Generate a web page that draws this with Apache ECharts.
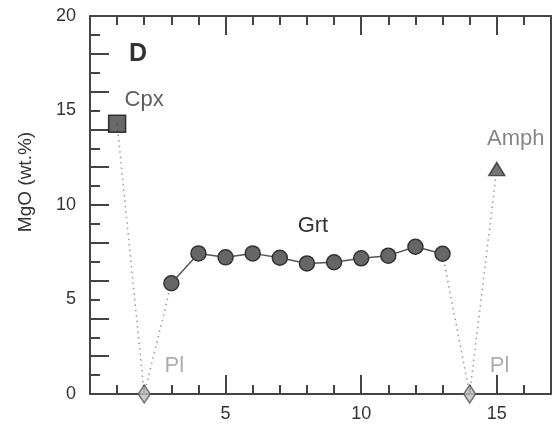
<!DOCTYPE html>
<html>
<head>
<meta charset="utf-8">
<script src="https://cdn.jsdelivr.net/npm/echarts@6/dist/echarts.min.js"></script>
<style>
  html, body { margin: 0; padding: 0; background: #fff; }
  #chart { width: 557px; height: 439px; }
</style>
</head>
<body>
<div id="chart"></div>
<script>
// Analysis positions along the traverse and MgO contents (wt.%)
const cpxX = [1];
const cpxY = [14.3];
const plX = [2, 14];
const plY = [0, 0];
const grtX = [3, 4, 5, 6, 7, 8, 9, 10, 11, 12, 13];
const grtY = [5.86, 7.44, 7.23, 7.44, 7.21, 6.91, 6.97, 7.18, 7.32, 7.79, 7.42];
const amphX = [15];
const amphY = [11.9];

const xTickLabels = [5, 10, 15];
const yTickLabels = [0, 5, 10, 15, 20];

const FONT = 'Liberation Sans, Arial, sans-serif';
const AXIS_COLOR = '#444';

const pts = (xs, ys) => xs.map((x, i) => [x, ys[i]]);

// Dotted tie lines: Cpx -> Pl -> first Grt, last Grt -> Pl -> Amph
const tieLeft = [[cpxX[0], cpxY[0]], [plX[0], plY[0]], [grtX[0], grtY[0]]];
const last = grtX.length - 1;
const tieRight = [[grtX[last], grtY[last]], [plX[1], plY[1]], [amphX[0], amphY[0]]];

function mkXAxis(position, interval, len, opts) {
  return Object.assign({
    type: 'value', position: position, min: 0, max: 17, interval: interval,
    axisLine: { show: false, onZero: false },
    axisTick: { show: true, inside: true, length: len, lineStyle: { color: AXIS_COLOR, width: 2 } },
    axisLabel: { show: false },
    splitLine: { show: false }
  }, opts || {});
}
function mkYAxis(position, interval, len, opts) {
  return Object.assign({
    type: 'value', position: position, min: 0, max: 20, interval: interval,
    axisLine: { show: false, onZero: false },
    axisTick: { show: len > 0, inside: true, length: len, lineStyle: { color: AXIS_COLOR, width: 2 } },
    axisLabel: { show: false },
    splitLine: { show: false }
  }, opts || {});
}

const labelStyle = (text, color, offset) => ({
  show: true, position: 'inside', formatter: text, offset: offset,
  color: color, fontSize: 22, fontFamily: FONT
});

const chart = echarts.init(document.getElementById('chart'), null, { renderer: 'canvas' });
chart.setOption({
  animation: false,
  backgroundColor: '#fff',
  title: {
    text: 'D', left: 124, top: 37,
    textStyle: { fontSize: 25, fontWeight: 'bold', color: '#333', fontFamily: FONT }
  },
  grid: { left: 90, right: 6, top: 16, bottom: 45, containLabel: false },
  xAxis: [
    mkXAxis('bottom', 1, 9, {
      axisLine: { show: true, onZero: false, lineStyle: { color: AXIS_COLOR, width: 2 } },
      axisLabel: {
        show: true, margin: 11, fontSize: 18, color: '#333', fontFamily: FONT,
        formatter: v => (xTickLabels.indexOf(v) >= 0 ? String(v) : '')
      }
    }),
    mkXAxis('bottom', 5, 19),
    mkXAxis('top', 1, 9, {
      axisLine: { show: true, onZero: false, lineStyle: { color: AXIS_COLOR, width: 2 } }
    }),
    mkXAxis('top', 5, 19)
  ],
  yAxis: [
    mkYAxis('left', 1, 10, {
      axisLine: { show: true, onZero: false, lineStyle: { color: AXIS_COLOR, width: 2 } },
      axisLabel: {
        show: true, margin: 14, fontSize: 18, color: '#333', fontFamily: FONT,
        formatter: v => (yTickLabels.indexOf(v) >= 0 ? String(v) : '')
      },
      name: 'MgO (wt.%)', nameLocation: 'middle', nameGap: 55, nameRotate: 90,
      nameTextStyle: { fontSize: 19, color: '#333', fontFamily: FONT, padding: [0, 0, 0, 46] }
    }),
    mkYAxis('left', 2, 19),
    mkYAxis('right', 5, 0, {
      axisLine: { show: true, onZero: false, lineStyle: { color: AXIS_COLOR, width: 2 } }
    })
  ],
  series: [
    {
      type: 'line', data: tieLeft, symbol: 'none', z: 1, silent: true,
      lineStyle: { color: '#9a9a9a', width: 1.5, type: [1.5, 4] }
    },
    {
      type: 'line', data: tieRight, symbol: 'none', z: 1, silent: true,
      lineStyle: { color: '#9a9a9a', width: 1.5, type: [1.5, 4] }
    },
    {
      name: 'Grt', type: 'line', z: 3,
      data: pts(grtX, grtY).map((p, i) => i === 5
        ? { value: p, label: labelStyle('Grt', '#333', [6, -37]) }
        : p),
      symbol: 'circle', symbolSize: 15,
      itemStyle: { color: '#666', borderColor: '#333', borderWidth: 1.5 },
      lineStyle: { color: '#555', width: 1.5 },
      label: { show: false }
    },
    {
      name: 'Cpx', type: 'scatter', z: 4,
      data: pts(cpxX, cpxY),
      symbol: 'rect', symbolSize: 17,
      itemStyle: { color: '#444', borderColor: '#111', borderWidth: 1.5 },
      label: labelStyle('Cpx', '#333', [27, -24])
    },
    {
      name: 'Pl', type: 'scatter', z: 4,
      data: pts(plX, plY),
      symbol: 'diamond', symbolSize: [12, 18],
      itemStyle: { color: '#bdbdbd', borderColor: '#555', borderWidth: 1.5 },
      label: labelStyle('Pl', '#999', [30, -28])
    },
    {
      name: 'Amph', type: 'scatter', z: 4,
      data: pts(amphX, amphY),
      symbol: 'triangle', symbolSize: [16, 13],
      itemStyle: { color: '#555', borderColor: '#333', borderWidth: 1.5 },
      label: labelStyle('Amph', '#666', [19, -30])
    }
  ]
});
</script>
</body>
</html>
